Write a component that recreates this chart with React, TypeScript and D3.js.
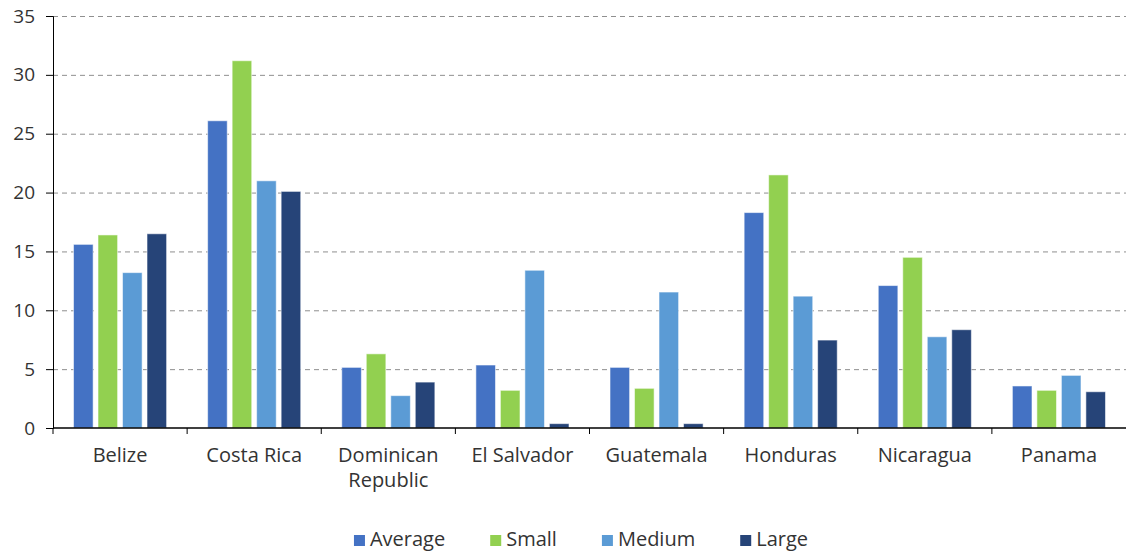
import { useEffect, useRef } from "react";
import * as d3 from "d3";

// Chart values
const COUNTRIES = [
  "Belize",
  "Costa Rica",
  "Dominican Republic",
  "El Salvador",
  "Guatemala",
  "Honduras",
  "Nicaragua",
  "Panama",
];
const SERIES = ["Average", "Small", "Medium", "Large"];
const AVERAGE = [15.6, 26.1, 5.15, 5.35, 5.15, 18.3, 12.1, 3.57];
const SMALL = [16.4, 31.2, 6.3, 3.2, 3.37, 21.5, 14.5, 3.2];
const MEDIUM = [13.2, 21.0, 2.75, 13.4, 11.55, 11.2, 7.75, 4.47];
const LARGE = [16.5, 20.1, 3.9, 0.37, 0.37, 7.47, 8.35, 3.08];
const Y_TICKS = [0, 5, 10, 15, 20, 25, 30, 35];

const COLORS: Record<string, string> = {
  Average: "#4472C4",
  Small: "#92D050",
  Medium: "#5B9BD5",
  Large: "#264478",
};

const WIDTH = 1126;
const HEIGHT = 552;
const FONT = "'Open Sans', sans-serif";
const TEXT = "#333";

export default function App() {
  const ref = useRef<SVGSVGElement>(null);

  useEffect(() => {
    const svg = d3.select(ref.current);
    svg.selectAll("*").remove();

    const margin = { top: 16, right: 0, bottom: 124, left: 53 };
    const innerW = WIDTH - margin.left - margin.right;
    const innerH = HEIGHT - margin.top - margin.bottom;

    const values: Record<string, number[]> = {
      Average: AVERAGE,
      Small: SMALL,
      Medium: MEDIUM,
      Large: LARGE,
    };

    const x0 = d3.scaleBand().domain(COUNTRIES).range([0, innerW]);
    const bw = x0.bandwidth();
    const x1 = d3
      .scaleBand()
      .domain(SERIES)
      .range([bw / 2 - 49, bw / 2 + 49])
      .paddingInner(0.2)
      .paddingOuter(0.1);
    const y = d3.scaleLinear().domain([0, 35]).range([innerH, 0]);

    const g = svg.append("g").attr("transform", `translate(${margin.left},${margin.top})`);

    // dashed grid
    g.selectAll("line.grid")
      .data(Y_TICKS.filter((t) => t > 0))
      .join("line")
      .attr("x1", 0)
      .attr("x2", innerW)
      .attr("y1", (d) => y(d) + 0.5)
      .attr("y2", (d) => y(d) + 0.5)
      .attr("stroke", "#8f8f8f")
      .attr("stroke-width", 1)
      .attr("stroke-dasharray", "5,4");

    // bars
    const groups = g
      .selectAll("g.country")
      .data(COUNTRIES)
      .join("g")
      .attr("transform", (d) => `translate(${x0(d)},0)`);

    groups
      .selectAll("rect")
      .data((_, i) => SERIES.map((s) => ({ s, v: values[s][i] })))
      .join("rect")
      .attr("x", (d) => x1(d.s)!)
      .attr("width", x1.bandwidth())
      .attr("y", (d) => y(d.v))
      .attr("height", (d) => innerH - y(d.v))
      .attr("fill", (d) => COLORS[d.s])
      .attr("stroke", "rgba(255,255,255,0.55)")
      .attr("stroke-width", 1);

    // y axis
    const yAxis = g
      .append("g")
      .call(d3.axisLeft(y).tickValues(Y_TICKS).tickSize(7).tickPadding(11))
      .attr("font-family", FONT)
      .attr("font-size", 19);
    yAxis.select(".domain").attr("stroke", "#000");
    yAxis.selectAll(".tick line").attr("stroke", "#000");
    yAxis.selectAll(".tick text").attr("fill", TEXT);

    // x axis line + boundary ticks
    g.append("line")
      .attr("x1", 0)
      .attr("x2", innerW)
      .attr("y1", innerH)
      .attr("y2", innerH)
      .attr("stroke", "#000")
      .attr("stroke-width", 1.5);
    g.selectAll("line.xtick")
      .data(COUNTRIES)
      .join("line")
      .attr("x1", (d) => x0(d)!)
      .attr("x2", (d) => x0(d)!)
      .attr("y1", innerH)
      .attr("y2", innerH + 6)
      .attr("stroke", "#000");

    // category labels
    const labels = g
      .selectAll("text.cat")
      .data(COUNTRIES)
      .join("text")
      .attr("x", (d) => x0(d)! + bw / 2)
      .attr("y", innerH + 34)
      .attr("text-anchor", "middle")
      .attr("font-family", FONT)
      .attr("font-size", 20)
      .attr("fill", TEXT);
    labels.each(function (d) {
      const t = d3.select(this);
      const parts = d === "Dominican Republic" ? ["Dominican", "Republic"] : [d];
      parts.forEach((p, i) => {
        t.append("tspan")
          .attr("x", x0(d)! + bw / 2)
          .attr("dy", i === 0 ? 0 : 25)
          .text(p);
      });
    });

    // legend
    const legend = svg.append("g");
    let cursor = 0;
    SERIES.forEach((s) => {
      const item = legend.append("g").attr("transform", `translate(${cursor},0)`);
      item
        .append("rect")
        .attr("x", 0)
        .attr("y", -11)
        .attr("width", 11)
        .attr("height", 11)
        .attr("fill", COLORS[s]);
      const txt = item
        .append("text")
        .attr("x", 16)
        .attr("y", 0)
        .attr("font-family", FONT)
        .attr("font-size", 20)
        .attr("fill", TEXT)
        .text(s);
      const w = (txt.node() as SVGTextElement).getComputedTextLength();
      cursor += 16 + w + 45;
    });
    const total = cursor - 45;
    legend.attr("transform", `translate(${581 - total / 2},546)`);
  }, []);

  return (
    <svg
      ref={ref}
      width={WIDTH}
      height={HEIGHT}
      style={{ position: "absolute", left: 0, top: 0, background: "#fff" }}
    />
  );
}
